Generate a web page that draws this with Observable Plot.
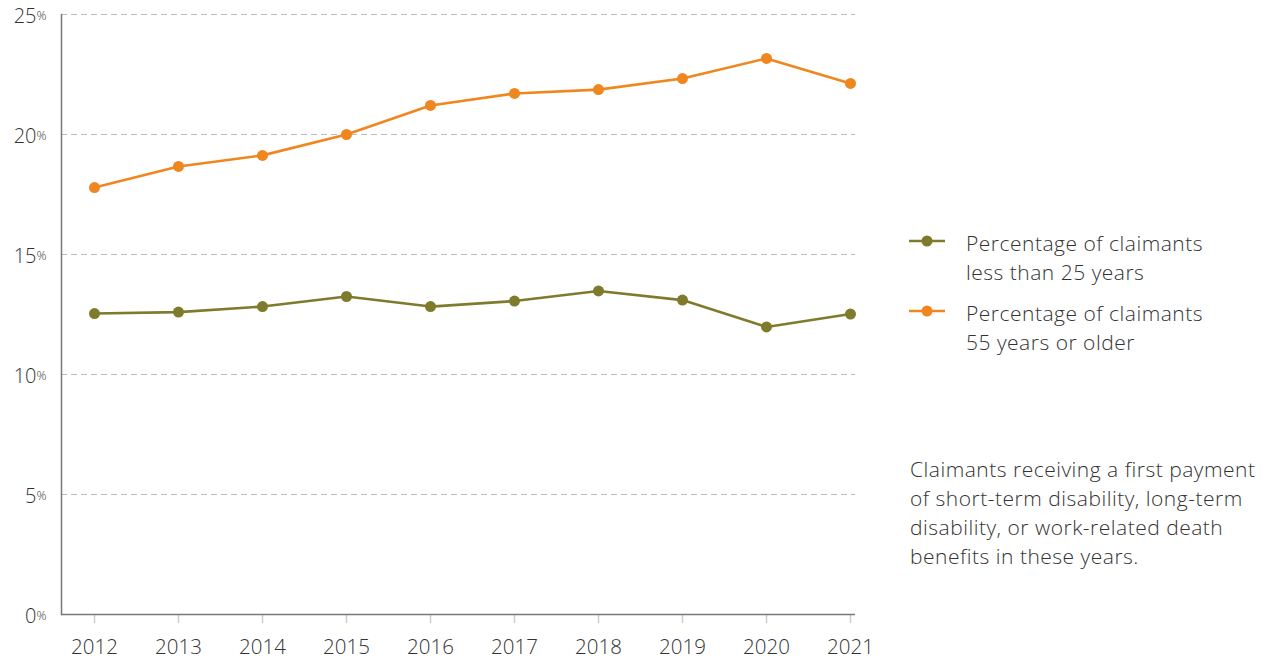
<!DOCTYPE html>
<html>
<head>
<meta charset="utf-8">
<script src="https://cdn.jsdelivr.net/npm/d3@7"></script>
<script src="https://cdn.jsdelivr.net/npm/@observablehq/plot@0.6"></script>
<style>
  html, body { margin: 0; padding: 0; background: #fff; }
  body { font-family: "Open Sans", Lato, sans-serif; color: #333; font-weight: 300; }
  #wrap { position: relative; width: 1270px; height: 662px; }
  #chart { position: absolute; left: 0; top: 0; }
  #chart text { font-weight: 300; }
  #legend { position: absolute; left: 909px; top: 229px; font-size: 21px; line-height: 29px; color: #333; letter-spacing: 0.5px; }
  .item { display: flex; align-items: flex-start; margin-bottom: 12px; }
  .item svg { flex: none; margin-right: 21px; margin-top: 1px; }
  #note { position: absolute; left: 910px; top: 455px; font-size: 21px; line-height: 29px; color: #333; white-space: nowrap; letter-spacing: 0.5px; }
</style>
</head>
<body>
<div id="wrap">
  <div id="chart"></div>
  <div id="legend"></div>
  <div id="note"></div>
</div>
<script>
const years = [2012, 2013, 2014, 2015, 2016, 2017, 2018, 2019, 2020, 2021];
const under25 = [12.54, 12.6, 12.83, 13.25, 12.83, 13.06, 13.48, 13.1, 11.98, 12.52];
const over55 = [17.79, 18.67, 19.13, 20.0, 21.21, 21.71, 21.87, 22.33, 23.17, 22.13];
const yTicks = [0, 5, 10, 15, 20, 25];
const seriesNames = ["Percentage of claimants\nless than 25 years", "Percentage of claimants\n55 years or older"];
const seriesColors = ["#7f7b2c", "#ef861e"];
const noteLines = ["Claimants receiving a first payment", "of short-term disability, long-term", "disability, or work-related death", "benefits in these years."];

const rows = [];
years.forEach((y, i) => {
  rows.push({year: y, value: under25[i], series: seriesNames[0]});
  rows.push({year: y, value: over55[i], series: seriesNames[1]});
});

const chart = Plot.plot({
  width: 880,
  height: 662,
  marginLeft: 61,
  marginRight: 25,
  marginTop: 14,
  marginBottom: 48,
  style: {fontFamily: "'Open Sans', Lato, sans-serif", color: "#333", background: "#fff"},
  x: {type: "linear", domain: [2012, 2021], range: [94, 850], axis: null},
  y: {domain: [0, 25], axis: null},
  color: {domain: seriesNames, range: seriesColors},
  marks: [
    Plot.ruleY(yTicks.filter(d => d > 0), {y: d => d, stroke: "#bbb", strokeWidth: 1, strokeDasharray: "6,4"}),
    Plot.axisX({ticks: years, tickSize: 9, stroke: "#ccc", strokeWidth: 1.5, tickFormat: d => String(d), fontSize: 20.5, tickPadding: 16, label: null}),
    Plot.ruleY([0], {stroke: "#777", strokeWidth: 1.5}),
    Plot.frame({anchor: "left", stroke: "#777", strokeWidth: 1.5}),
    Plot.text(yTicks, {y: d => d, text: d => String(d), frameAnchor: "left", textAnchor: "end", dx: -25, dy: 2, fontSize: 20, fill: "#333"}),
    Plot.text(yTicks, {y: d => d, text: () => "%", frameAnchor: "left", textAnchor: "start", dx: -25, dy: 1, fontSize: 12.5, fill: "#333"}),
    Plot.line(rows, {x: "year", y: "value", stroke: "series", strokeWidth: 2.6}),
    Plot.dot(rows, {x: "year", y: "value", fill: "series", r: 5.5})
  ]
});
document.getElementById("chart").appendChild(chart);

const legend = d3.select("#legend");
seriesNames.forEach((name, i) => {
  const item = legend.append("div").attr("class", "item");
  const s = item.append("svg").attr("width", 36).attr("height", 26);
  s.append("line").attr("x1", 0).attr("x2", 36).attr("y1", 11).attr("y2", 11)
    .attr("stroke", seriesColors[i]).attr("stroke-width", 2.6);
  s.append("circle").attr("cx", 18).attr("cy", 11).attr("r", 5.5).attr("fill", seriesColors[i]);
  const t = item.append("div");
  name.split("\n").forEach(l => t.append("div").text(l));
});
const note = d3.select("#note");
noteLines.forEach(l => note.append("div").text(l));
</script>
</body>
</html>
